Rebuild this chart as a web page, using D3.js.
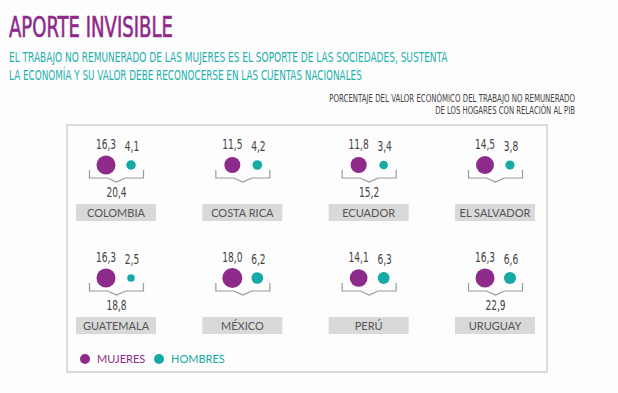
<!DOCTYPE html>
<html>
<head>
<meta charset="utf-8">
<script src="https://cdn.jsdelivr.net/npm/d3@7"></script>
<style>
  body { margin: 0; background: #fdfdfd; }
</style>
</head>
<body>
<div id="chart"></div>
<script>
// Data
const countries = ["COLOMBIA", "COSTA RICA", "ECUADOR", "EL SALVADOR",
    "GUATEMALA", "MÉXICO", "PERÚ", "URUGUAY"]
const mujeres = [16.3, 11.5, 11.8, 14.5, 16.3, 18.0, 14.1, 16.3]
const hombres = [4.1, 4.2, 3.4, 3.8, 2.5, 6.2, 6.3, 6.6]
// total only printed for some countries
const totales = [20.4, null, 15.2, null, 18.8, null, null, 22.9]
const legendLabels = ["MUJERES", "HOMBRES"]

const width = 618, height = 393
const purple = "#8d2a8a", teal = "#16aaa6"
const narrow = "'DejaVu Sans Condensed', 'Liberation Sans Narrow', sans-serif"
const round = "Lato, 'Open Sans', sans-serif"

const fmt = v => d3.format(".1f")(v).replace(".", ",")

const svg = d3.select("#chart").append("svg")
    .attr("width", width)
    .attr("height", height)

// Squeezed text: a group scaled on x, so the condensed look of the
// original can be matched with the fonts we have
function squeezed(parent, x, y, txt, opts) {
    const g = parent.append("g")
    const t = g.append("text")
        .attr("text-anchor", opts.anchor || "start")
        .attr("font-family", narrow)
        .attr("font-size", opts.size)
        .attr("fill", opts.fill)
        .text(txt)
    if (opts.stroke) t.attr("stroke", opts.fill).attr("stroke-width", opts.stroke)
    let k = opts.k || 1
    if (opts.w) k = opts.w / t.node().getComputedTextLength()
    g.attr("transform", `translate(${x},${y}) scale(${k},1)`)
    return g
}

// Title block
squeezed(svg, 9, 37, "APORTE INVISIBLE", {size: 28, fill: purple, w: 164, stroke: 0.6})

const sub = [
    {t: "EL TRABAJO NO REMUNERADO DE LAS MUJERES ES EL SOPORTE DE LAS SOCIEDADES, SUSTENTA", y: 62, w: 439},
    {t: "LA ECONOMÍA Y SU VALOR DEBE RECONOCERSE EN LAS CUENTAS NACIONALES", y: 80, w: 353}
]
sub.forEach(d => squeezed(svg, 9, d.y, d.t, {size: 13.5, fill: "#1fb0ad", w: d.w}))

const note = [
    {t: "PORCENTAJE DEL VALOR ECONÓMICO DEL TRABAJO NO REMUNERADO", y: 102, w: 246},
    {t: "DE LOS HOGARES CON RELACIÓN AL PIB", y: 114, w: 140}
]
note.forEach(d => squeezed(svg, 575, d.y, d.t,
    {size: 10.5, fill: "#444", w: d.w, anchor: "end"}))

// Frame
svg.append("rect")
    .attr("x", 67).attr("y", 125)
    .attr("width", 480).attr("height", 247)
    .attr("fill", "none")
    .attr("stroke", "#cfcfcf")
    .attr("stroke-width", 1.5)

// Grid of countries
const colX = d3.scaleLinear().domain([0, 3]).range([76, 455])
const rowY = d3.scaleLinear().domain([0, 1]).range([204, 317])
const r = d3.scaleSqrt().domain([0, 18]).range([0, 10])
const boxW = 80, boxH = 17
const numK = 0.72

const data = countries.map((c, i) => ({
    name: c, m: mujeres[i], h: hombres[i], total: totales[i],
    col: i % 4, row: Math.floor(i / 4)
}))

const cells = svg.selectAll("g.cell")
    .data(data)
    .join("g")
    .attr("class", "cell")
    .attr("transform", d => `translate(${colX(d.col)},${rowY(d.row)})`)

cells.each(function (d) {
    const g = d3.select(this)
    const cy = -39
    const xm = 30, xh = 55
    const mid = (xm + xh) / 2 - 2

    // circles
    g.append("circle")
        .attr("cx", xm).attr("cy", cy)
        .attr("r", r(d.m))
        .attr("fill", purple)
    g.append("circle")
        .attr("cx", xh).attr("cy", cy)
        .attr("r", r(d.h))
        .attr("fill", teal)

    // value labels
    squeezed(g, xm, cy - 16, fmt(d.m),
        {size: 14, fill: "#444", k: numK, anchor: "middle"})
    squeezed(g, xh + 1, cy - 14, fmt(d.h),
        {size: 14, fill: "#444", k: numK, anchor: "middle"})

    // brace
    const x0 = mid - 27, x1 = mid + 27
    const yTop = -34, yBot = -26, yTip = -22
    const path = d3.path()
    path.moveTo(x0, yTop)
    path.lineTo(x0, yBot)
    path.lineTo(mid - 9, yBot)
    path.lineTo(mid, yTip)
    path.lineTo(mid + 9, yBot)
    path.lineTo(x1, yBot)
    path.lineTo(x1, yTop)
    g.append("path")
        .attr("d", path.toString())
        .attr("fill", "none")
        .attr("stroke", "#9a9a9a")
        .attr("stroke-width", 1.2)

    if (d.total != null) {
        squeezed(g, mid, -7, fmt(d.total),
            {size: 14, fill: "#444", k: numK, anchor: "middle"})
    }

    // country label box
    g.append("rect")
        .attr("x", 0).attr("y", 0)
        .attr("width", boxW).attr("height", boxH)
        .attr("fill", "#d9d9d9")
    g.append("text")
        .attr("x", boxW / 2).attr("y", 13)
        .attr("text-anchor", "middle")
        .attr("font-family", round)
        .attr("font-size", 11)
        .attr("fill", "#555")
        .text(d.name)
})

// Legend
const legend = svg.selectAll("g.legend")
    .data(legendLabels)
    .join("g")
    .attr("class", "legend")
    .attr("transform", (d, i) => `translate(${85 + i * 74},359)`)
legend.append("circle")
    .attr("r", 5)
    .attr("fill", (d, i) => i === 0 ? purple : teal)
legend.append("text")
    .attr("x", 12).attr("y", 4)
    .attr("font-family", round)
    .attr("font-size", 11)
    .attr("fill", (d, i) => i === 0 ? purple : teal)
    .text(d => d)
</script>
</body>
</html>
